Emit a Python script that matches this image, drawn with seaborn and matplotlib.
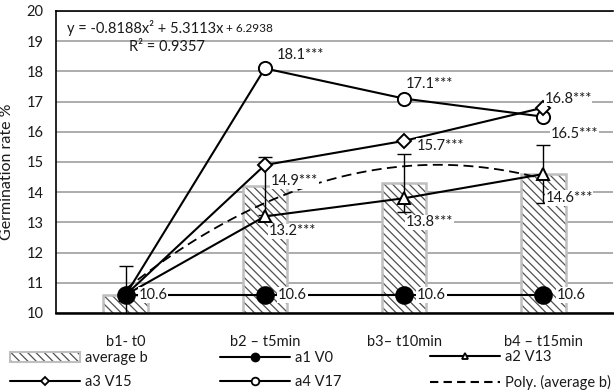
import numpy as np
import pandas as pd
import matplotlib
matplotlib.use("Agg")
import matplotlib.pyplot as plt
import seaborn as sns
from matplotlib.patches import Patch
from matplotlib.lines import Line2D
from matplotlib.legend_handler import HandlerTuple

# ---------------- data ----------------
categories = ["b1- t0", "b2 – t5min", "b3– t10min", "b4 – t15min"]
average_b = [10.6, 14.2, 14.3, 14.6]
average_b_err = [0.95, 0.95, 0.95, 0.97]
a1_V0 = [10.6, 10.6, 10.6, 10.6]
a2_V13 = [10.6, 13.2, 13.8, 14.6]
a3_V15 = [10.6, 14.9, 15.7, 16.8]
a4_V17 = [10.6, 18.1, 17.1, 16.5]
poly_coef = [-0.8188, 5.3113, 6.2938]
r_squared = 0.9357
a1_labels = ["10.6", "10.6", "10.6", "10.6"]
a2_labels = ["", "13.2***", "13.8***", "14.6***"]
a3_labels = ["", "14.9***", "15.7***", "16.8***"]
a4_labels = ["", "18.1***", "17.1***", "16.5***"]
y_ticks = list(range(10, 21))
y_label = "Germination rate %"
legend_labels = ["average b", "a1 V0", "a2 V13", "a3 V15", "a4 V17", "Poly. (average b)"]

# ---------------- style ----------------
sns.set_theme(style="white")
plt.rcParams["font.family"] = ["Lato", "DejaVu Sans"]
plt.rcParams["hatch.linewidth"] = 0.9
HATCH = "\\\\\\\\"
TXT = "#1a1a1a"

W, H = 614, 392
fig = plt.figure(figsize=(W / 100, H / 100), dpi=100)
ax = fig.add_axes([56 / W, 1 - 313 / H, (613 - 56) / W, (313 - 11) / H])

df = pd.DataFrame({"cat": categories, "avg": average_b})
# hatched fill (hatch takes the edge colour)
sns.barplot(data=df, x="cat", y="avg", ax=ax, color="white", width=0.32,
            edgecolor="#505050", linewidth=0, hatch=HATCH, errorbar=None, zorder=2)
# grey outline
sns.barplot(data=df, x="cat", y="avg", ax=ax, fill=False, width=0.32,
            edgecolor="#bfbfbf", linewidth=1.8, errorbar=None, zorder=2.1)
n = len(categories)
for i, p in enumerate(ax.patches):
    if i < n:
        p.set_facecolor("white")
        p.set_edgecolor("#505050")
        p.set_linewidth(0)
    else:
        p.set_facecolor("none")
        p.set_edgecolor("#bfbfbf")

xpos = np.arange(n)
ax.errorbar(xpos, average_b, yerr=average_b_err, fmt="none", ecolor="black",
            elinewidth=1.0, capsize=5, capthick=1.0, zorder=3)

# polynomial trendline (from equation shown on chart)
xs = np.linspace(0, n - 1, 100)
ys = np.polyval(poly_coef, xs + 1)
sns.lineplot(x=xs, y=ys, ax=ax, color="black", linestyle=(0, (5.5, 3)), linewidth=1.3, zorder=4)

series = [
    (a4_V17, "o", 9.5, "white", 5),
    (a3_V15, "D", 7, "white", 5.1),
    (a2_V13, "^", 8.5, "white", 5.2),
    (a1_V0, "o", 12, "black", 5.3),
]
for vals, mk, ms, fc, zo in series:
    n_before = len(ax.lines)
    sns.pointplot(x=categories, y=vals, ax=ax, color="black", markers=mk, linestyles="-",
                  errorbar=None, linewidth=1.5)
    for ln in ax.lines[n_before:]:
        ln.set_markersize(ms)
        ln.set_markerfacecolor(fc)
        ln.set_markeredgecolor("black")
        ln.set_markeredgewidth(1.4)
        ln.set_linewidth(1.5)
        ln.set_zorder(zo)

# data labels
offsets = {
    "a1": [(13, 0)] * 4,
    "a2": [None, (4, -15), (2, -24), (2, -24)],
    "a3": [None, (6, -16), (13, -5), (1, 9)],
    "a4": [None, (12, 13), (2, 15), (7, -17)],
}
for key, vals, labs in [("a1", a1_V0, a1_labels), ("a2", a2_V13, a2_labels),
                         ("a3", a3_V15, a3_labels), ("a4", a4_V17, a4_labels)]:
    for i, (v, lab) in enumerate(zip(vals, labs)):
        if not lab:
            continue
        ax.annotate(lab, xy=(xpos[i], v), xytext=offsets[key][i], textcoords="offset pixels",
                    ha="left", va="center", fontsize=10.5, color=TXT, zorder=7,
                    bbox=dict(boxstyle="square,pad=0.05", fc="white", ec="none"))

# axes styling
ax.set_xlim(-0.5, n - 0.5)
ax.set_ylim(10, 20)
ax.set_yticks(y_ticks)
ax.set_axisbelow(True)
ax.grid(axis="y", color="#a6a6a6", linewidth=1.3)
ax.grid(axis="x", visible=False)
ax.set_xlabel("")
ax.set_ylabel(y_label, fontsize=11.5, color=TXT)
ax.yaxis.set_label_coords(-(56 - 14) / (613 - 56), 1 - (172 - 11) / (313 - 11))
ax.tick_params(axis="y", labelsize=10.5, pad=9, length=0, colors=TXT)
ax.tick_params(axis="x", labelsize=10.5, pad=16, length=0, colors=TXT)
for s in ["left", "top", "bottom"]:
    ax.spines[s].set_visible(True)
    ax.spines[s].set_color("black")
ax.spines["left"].set_linewidth(1.2)
ax.spines["top"].set_linewidth(1.2)
ax.spines["bottom"].set_linewidth(1.8)
ax.spines["right"].set_visible(False)

# equation text
eq = fig.text(67 / W, 1 - 28 / H, "y = -0.8188x² + 5.3113x", fontsize=10.5, ha="left",
              va="center", color=TXT)
ax.annotate(" + 6.2938", xy=(1, 0.12), xycoords=eq, fontsize=8.5, ha="left", va="bottom",
            color=TXT, annotation_clip=False)
fig.text(167 / W, 1 - 47 / H, f"R² = {r_squared}", fontsize=10.5, ha="center", va="center",
         color=TXT)

# legends: three columns placed manually
bar_h = (Patch(facecolor="white", edgecolor="#505050", hatch=HATCH, linewidth=0),
         Patch(facecolor="none", edgecolor="#bfbfbf", linewidth=1.5))
h_a1 = Line2D([], [], color="black", lw=1.5, marker="o", ms=6, mfc="black", mec="black")
h_a2 = Line2D([], [], color="black", lw=1.5, marker="^", ms=5, mfc="white", mec="black", mew=1.3)
h_a3 = Line2D([], [], color="black", lw=1.5, marker="D", ms=4, mfc="white", mec="black", mew=1.3)
h_a4 = Line2D([], [], color="black", lw=1.5, marker="o", ms=5.5, mfc="white", mec="black", mew=1.3)
h_poly = Line2D([], [], color="black", lw=1.5, linestyle=(0, (4, 2.5)))
cols = [([bar_h, h_a3], [legend_labels[0], legend_labels[3]], 10),
        ([h_a1, h_a4], [legend_labels[1], legend_labels[4]], 220),
        ([h_a2, h_poly], [legend_labels[2], legend_labels[5]], 430)]
for hs, ls, x0 in cols:
    leg = fig.legend(hs, ls, loc="center left", bbox_to_anchor=(x0 / W, 1 - 370 / H),
                     frameon=False, fontsize=10.5, handlelength=4.8, handletextpad=0.35,
                     labelspacing=0.7, borderpad=0, borderaxespad=0,
                     handler_map={tuple: HandlerTuple(ndivide=1, pad=0)})
    for t in leg.get_texts():
        t.set_color(TXT)

fig.savefig("out.png", dpi=100)
